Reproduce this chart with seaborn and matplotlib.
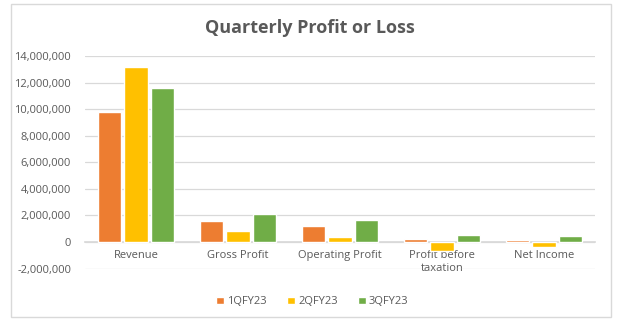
import matplotlib
matplotlib.use("Agg")
import matplotlib.pyplot as plt
import matplotlib.ticker as mticker
from matplotlib.patches import Rectangle
import seaborn as sns
import pandas as pd

categories = ["Revenue", "Gross Profit", "Operating Profit", "Profit before\ntaxation", "Net Income"]
series = ["1QFY23", "2QFY23", "3QFY23"]
q1 = [9800000, 1580000, 1200000, 230000, 150000]
q2 = [13170000, 830000, 380000, -680000, -380000]
q3 = [11600000, 2100000, 1660000, 530000, 450000]
colors = ["#ED7D31", "#FFC000", "#70AD47"]

rows = []
for s, vals in zip(series, [q1, q2, q3]):
    for c, v in zip(categories, vals):
        rows.append({"Category": c, "Quarter": s, "Value": v})
df = pd.DataFrame(rows)

sns.set_theme(style="white")
plt.rcParams["font.family"] = ["Open Sans", "DejaVu Sans"]

fig = plt.figure(figsize=(6.25, 3.31), dpi=100)
ax = fig.add_axes([85 / 625, 0.1885, 510 / 625, 0.6425])

sns.barplot(data=df, x="Category", y="Value", hue="Quarter", palette=colors,
            width=0.78, gap=0.11, ax=ax, legend=True, saturation=1)
for p in ax.patches:
    p.set_zorder(3)

ax.set_ylim(-2000000, 14000000)
ax.yaxis.set_major_locator(mticker.MultipleLocator(2000000))
ax.yaxis.set_major_formatter(mticker.FuncFormatter(lambda v, p: f"{int(round(v)):,}"))
ax.grid(axis="y", color="#D9D9D9", linewidth=0.9)
ax.set_axisbelow(True)
for sp in ["top", "right", "left"]:
    ax.spines[sp].set_visible(False)
ax.spines["bottom"].set_position(("data", 0))
ax.spines["bottom"].set_color("#D9D9D9")
ax.spines["bottom"].set_zorder(0.6)
ax.set_xlabel("")
ax.set_ylabel("")
ax.tick_params(axis="both", length=0, labelsize=8, colors="#595959", pad=10)
ax.tick_params(axis="x", pad=6)
ax.set_xlim(-0.5, len(categories) - 0.5)

ax.legend(loc="center", bbox_to_anchor=(0.5, 0.088), bbox_transform=fig.transFigure,
          ncol=3, frameon=False, fontsize=8, handlelength=0.7, handleheight=0.7,
          handletextpad=0.3, columnspacing=1.8, labelcolor="#595959")

fig.text(0.496, 0.915, "Quarterly Profit or Loss", ha="center", va="center",
         fontsize=13, fontweight="bold", color="#595959")

fig.patches.append(Rectangle((11 / 625, 1 - 317 / 331), 600 / 625, 313 / 331,
                             transform=fig.transFigure, fill=False,
                             edgecolor="#D9D9D9", linewidth=1))

fig.savefig("out.png", dpi=100)
